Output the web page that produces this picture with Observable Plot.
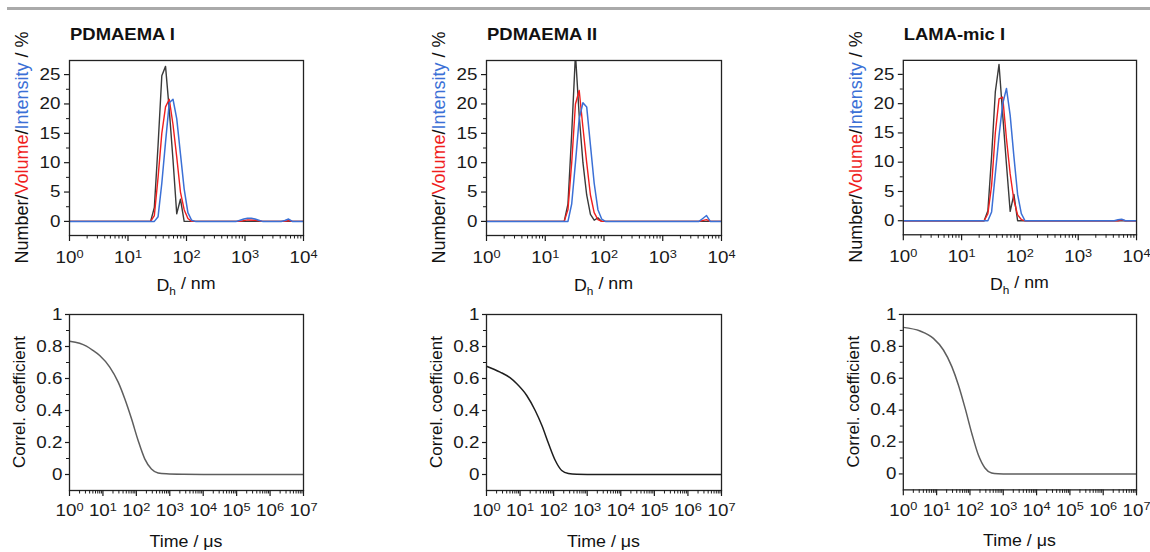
<!DOCTYPE html>
<html><head><meta charset="utf-8">
<script src="https://cdn.jsdelivr.net/npm/d3@7"></script>
<script src="https://cdn.jsdelivr.net/npm/@observablehq/plot@0.6"></script>
<style>
html,body{margin:0;padding:0;background:#fff;width:1150px;height:552px;overflow:hidden;}
#root{position:relative;width:1150px;height:552px;}
.topbar{position:absolute;left:7px;top:7px;width:1143px;height:3px;background:#aaaaaa;}
.panel{position:absolute;}
</style></head><body><div id="root"><div class="topbar"></div></div>
<script>
// ---------- DATA (Dh in nm, values in %) ----------
const panelTitles = ["PDMAEMA I", "PDMAEMA II", "LAMA-mic I"];

const p1Number = [[1,0],[24.36,0],[28.21,2.4],[32.67,13],[37.84,24.8],[43.82,26.4],[50.75,19],[58.77,10.5],[68.06,1.3],[78.82,3.8],[91.28,0],[10000,0]];
const p1Volume = [[1,0],[24.36,0],[28.21,1],[32.67,7.5],[37.84,15],[43.82,19.5],[50.75,20.8],[58.77,16.5],[68.06,11],[78.82,5],[91.28,2],[105.7,0.5],[122.4,0],[825,0],[1106,0.25],[1484,0.2],[1990,0],[4801,0],[5560,0.15],[6439,0],[10000,0]];
const p1Intensity = [[1,0],[28.21,0],[32.67,0.8],[37.84,6.5],[43.82,13.5],[50.75,20.2],[58.77,20.8],[68.06,17.5],[78.82,11.5],[91.28,5.5],[105.7,1.5],[122.4,0.2],[141.8,0],[712.4,0],[825,0.2],[955.4,0.4],[1106,0.55],[1281,0.55],[1484,0.4],[1718,0.2],[1990,0],[4145,0],[4801,0.15],[5560,0.4],[6439,0],[10000,0]];

const p2Number = [[1,0],[21.04,0],[24.36,3],[28.21,15],[32.67,28.5],[37.84,18],[43.82,10],[50.75,4.5],[58.77,1.2],[68.06,0.2],[78.82,0.6],[91.28,0],[10000,0]];
const p2Volume = [[1,0],[21.04,0],[24.36,2],[28.21,10],[32.67,20],[37.84,22.3],[43.82,16],[50.75,10],[58.77,4.5],[68.06,1.5],[78.82,0.3],[91.28,0],[4145,0],[5560,0.3],[6439,0],[10000,0]];
const p2Intensity = [[1,0],[24.36,0],[28.21,3],[32.67,10],[37.84,17.5],[43.82,20.2],[50.75,19.5],[58.77,13],[68.06,6.5],[78.82,2],[91.28,0.4],[105.7,0],[4145,0],[4801,0.5],[5560,1.0],[6439,0],[10000,0]];

const p3Number = [[1,0],[24.36,0],[28.21,1.7],[32.67,11],[37.84,22],[43.82,26.7],[50.75,18],[58.77,9.6],[68.06,1.6],[78.82,4.5],[91.28,0],[10000,0]];
const p3Volume = [[1,0],[24.36,0],[28.21,1.2],[32.67,6],[37.84,15],[43.82,20.8],[50.75,21.1],[58.77,14],[68.06,8],[78.82,3.5],[91.28,1],[105.7,0.2],[122.4,0],[4801,0],[5560,0.15],[6439,0],[10000,0]];
const p3Intensity = [[1,0],[28.21,0],[32.67,1.5],[37.84,8],[43.82,14.5],[50.75,20],[58.77,22.6],[68.06,18],[78.82,11],[91.28,4.5],[105.7,1.2],[122.4,0],[4145,0],[4801,0.15],[5560,0.25],[6439,0],[10000,0]];

// correlation coefficient vs time (µs)
const corr1 = [[1,0.833],[2,0.82],[3.2,0.802],[5,0.776],[8,0.744],[16,0.671],[28.6,0.577],[45,0.473],[71.6,0.348],[113,0.2125],[178,0.098],[282,0.035],[447,0.01],[794,0.004],[2500,0.001],[10000,0],[10000000,0]];
const corr2 = [[1,0.677],[2.55,0.64],[5,0.605],[8,0.567],[15.8,0.494],[28.2,0.4],[44.7,0.306],[70.8,0.192],[112,0.0875],[174,0.025],[275,0.006],[490,0.001],[1000,0],[10000000,0]];
const corr3 = [[1,0.919],[3.2,0.896],[8,0.85],[16,0.777],[28.6,0.673],[45,0.558],[71.6,0.4125],[113,0.256],[178,0.12],[282,0.0375],[447,0.006],[700,0.001],[1000,0],[10000000,0]];

// tick values
const sizeTicks = [1, 10, 100, 1000, 10000];
const timeTicks = [1, 10, 100, 1000, 1e4, 1e5, 1e6, 1e7];
const distTicks = [0, 5, 10, 15, 20, 25];
const distMinor = [2.5, 7.5, 12.5, 17.5, 22.5];
const corrTicks = [0, 0.2, 0.4, 0.6, 0.8, 1];
const corrMinor = [0.1, 0.3, 0.5, 0.7, 0.9];

// ---------- STYLE / LAYOUT ----------
const FONT = "'Liberation Sans', Arial, Helvetica, sans-serif";
const BLACK = "#3a3a3a", RED = "#f01e1e", BLUE = "#3b70d6";
const TICK_FS = 16.5;
const layout = [
  {left: 69, w: 234, corrColor: "#5e5e5e"},
  {left: 486, w: 235, corrColor: "#1e1e1e"},
  {left: 903, w: 234, corrColor: "#5e5e5e"}
];
const dist = [[p1Number,p1Volume,p1Intensity],[p2Number,p2Volume,p2Intensity],[p3Number,p3Volume,p3Intensity]];
const corr = [corr1, corr2, corr3];

function minorLog(decades) {
  const out = [];
  for (let k = 0; k < decades; k++) for (let m = 2; m <= 9; m++) out.push(m * Math.pow(10, k));
  return out;
}

function supify(svg) {
  d3.select(svg).selectAll('g[aria-label="x-axis tick label"] text').each(function () {
    const m = /^10\^(\d+)$/.exec(this.textContent);
    if (!m) return;
    const s = d3.select(this);
    s.text(null);
    s.append("tspan").text("10");
    s.append("tspan").attr("dy", "-0.48em").attr("font-size", "0.68em").text(m[1]);
  });
}
function stretch(svg, s) {
  d3.select(svg).selectAll('g[aria-label$="tick label"] text').each(function () {
    const tf = this.getAttribute("transform") || "";
    this.setAttribute("transform", tf + ` scale(${s},1)`);
  });
}

const root = document.getElementById("root");
const xy = {x: d => d[0], y: d => d[1]};

layout.forEach((L, i) => {
  // ----- top: size distribution -----
  {
    const mL = 60, mR = 14, mT = 45, mB = 60, fh = 175;
    const svg = Plot.plot({
      width: mL + L.w + mR, height: mT + fh + mB,
      marginLeft: mL, marginRight: mR, marginTop: mT, marginBottom: mB,
      style: {fontFamily: FONT, fontSize: "16px", color: "#1a1a1a", background: "transparent", overflow: "visible"},
      x: {type: "log", domain: [1, 1e4], label: null},
      y: {domain: [-2.4, 27.4], label: null},
      marks: [
        Plot.line(dist[i][0], {...xy, stroke: BLACK, strokeWidth: 1.4, clip: true}),
        Plot.line(dist[i][1], {...xy, stroke: RED, strokeWidth: 1.4, clip: true}),
        Plot.line(dist[i][2], {...xy, stroke: BLUE, strokeWidth: 1.5, clip: true}),
        Plot.frame({stroke: "#222", strokeWidth: 1.3}),
        Plot.axisX(minorLog(4), {tickSize: 3.5, tickFormat: () => "", strokeWidth: 1}),
        Plot.axisX(sizeTicks, {tickSize: 6, tickPadding: 10, fontSize: TICK_FS, strokeWidth: 1.2, tickFormat: d => "10^" + Math.round(Math.log10(d))}),
        Plot.axisY(distMinor, {tickSize: 3, tickFormat: () => "", strokeWidth: 1}),
        Plot.axisY(distTicks, {tickSize: 5, tickPadding: 4, fontSize: TICK_FS, strokeWidth: 1.2, tickFormat: d => String(d)})
      ]
    });
    supify(svg);
    stretch(svg, 1.14);
    const s = d3.select(svg);
    s.append("text").attr("transform", `translate(${mL + 1},${mT - 20}) scale(1.12,1)`)
      .attr("text-anchor", "start").attr("font-weight", "bold").attr("font-size", 16.5).attr("fill", "#111").text(panelTitles[i]);
    const yl = s.append("text").attr("transform", `translate(${mL - 47},${mT + fh / 2}) rotate(-90)`)
      .attr("text-anchor", "middle").attr("dy", "0.35em").attr("font-size", 18).attr("fill", "#111");
    yl.append("tspan").text("Number/");
    yl.append("tspan").attr("fill", RED).text("Volume");
    yl.append("tspan").text("/");
    yl.append("tspan").attr("fill", BLUE).text("Intensity");
    yl.append("tspan").text(" / %");
    const xl = s.append("text").attr("transform", `translate(${mL + L.w / 2},${mT + fh + 56}) scale(1.08,1)`)
      .attr("text-anchor", "middle").attr("font-size", 16.5).attr("fill", "#111");
    xl.append("tspan").text("D");
    xl.append("tspan").attr("dy", "0.32em").attr("font-size", 11).text("h");
    xl.append("tspan").attr("dy", "-0.32em").text(" / nm");
    const wrap = document.createElement("div");
    wrap.className = "panel";
    wrap.style.left = (L.left - mL) + "px";
    wrap.style.top = (60 - mT) + "px";
    wrap.appendChild(svg);
    root.appendChild(wrap);
  }
  // ----- bottom: correlation function -----
  {
    const mL = 60, mR = 14, mT = 14, mB = 62, fh = 176;
    const svg = Plot.plot({
      width: mL + L.w + mR, height: mT + fh + mB,
      marginLeft: mL, marginRight: mR, marginTop: mT, marginBottom: mB,
      style: {fontFamily: FONT, fontSize: "16px", color: "#1a1a1a", background: "transparent", overflow: "visible"},
      x: {type: "log", domain: [1, 1e7], label: null},
      y: {domain: [-0.1, 1], label: null},
      marks: [
        Plot.line(corr[i], {...xy, stroke: L.corrColor, strokeWidth: 1.5, curve: "monotone-x", clip: true}),
        Plot.frame({stroke: "#222", strokeWidth: 1.3}),
        Plot.axisX(minorLog(7), {tickSize: 3.5, tickFormat: () => "", strokeWidth: 1}),
        Plot.axisX(timeTicks, {tickSize: 6, tickPadding: 8, fontSize: TICK_FS, strokeWidth: 1.2, tickFormat: d => "10^" + Math.round(Math.log10(d))}),
        Plot.axisY(corrMinor, {tickSize: 3, tickFormat: () => "", strokeWidth: 1}),
        Plot.axisY(corrTicks, {tickSize: 4, tickPadding: 3, fontSize: TICK_FS, strokeWidth: 1.2, tickFormat: d => d3.format("~g")(d)})
      ]
    });
    supify(svg);
    stretch(svg, 1.14);
    const s = d3.select(svg);
    s.append("text").attr("transform", `translate(${mL - 50},${mT + fh / 2}) rotate(-90)`)
      .attr("text-anchor", "middle").attr("dy", "0.35em").attr("font-size", 17).attr("fill", "#111")
      .text("Correl. coefficient");
    s.append("text").attr("transform", `translate(${mL + L.w / 2},${mT + fh + 57}) scale(1.08,1)`)
      .attr("text-anchor", "middle").attr("font-size", 16.5).attr("fill", "#111").text("Time / μs");
    const wrap = document.createElement("div");
    wrap.className = "panel";
    wrap.style.left = (L.left - mL) + "px";
    wrap.style.top = (314 - mT) + "px";
    wrap.appendChild(svg);
    root.appendChild(wrap);
  }
});
</script></body></html>
